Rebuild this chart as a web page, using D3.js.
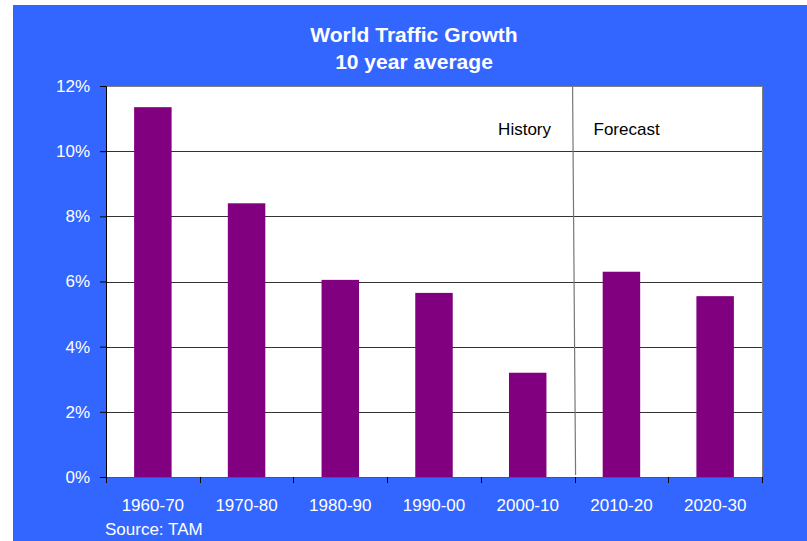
<!DOCTYPE html>
<html>
<head>
<meta charset="utf-8">
<script src="https://cdn.jsdelivr.net/npm/d3@7"></script>
<style>
  body { margin: 0; background: #fff; }
  text { font-family: "Liberation Sans", Arial, sans-serif; }
</style>
</head>
<body>
<div id="chart"></div>
<script>
var periods = ["1960-70", "1970-80", "1980-90", "1990-00", "2000-10", "2010-20", "2020-30"];
var growth = [11.35, 8.4, 6.05, 5.65, 3.2, 6.3, 5.55];
var yTicks = [0, 2, 4, 6, 8, 10, 12];
var titleLines = ["World Traffic Growth", "10 year average"];

var W = 807, H = 541;
var margin = { top: 86, right: 45, bottom: 64, left: 106 };
var width = W - margin.left - margin.right;
var height = H - margin.top - margin.bottom;

var svg = d3.select("#chart").append("svg")
    .attr("width", W)
    .attr("height", H);

// blue background
svg.append("rect")
    .attr("x", 13).attr("y", 5)
    .attr("width", W - 13).attr("height", H - 5)
    .style("fill", "#3366ff");

svg.selectAll(".title")
    .data(titleLines)
    .enter().append("text")
    .attr("class", "title")
    .attr("x", 414)
    .attr("y", function(d, i) { return 42 + i * 27; })
    .attr("text-anchor", "middle")
    .style("fill", "#fff")
    .style("font-size", "21px")
    .style("font-weight", "bold")
    .text(function(d) { return d; });

var g = svg.append("g")
    .attr("transform", "translate(" + margin.left + "," + margin.top + ")");

var x = d3.scaleBand()
    .domain(periods)
    .range([0, width])
    .paddingInner(0.6)
    .paddingOuter(0.3);

var xTick = d3.scaleBand().domain(periods).range([0, width]);

var y = d3.scaleLinear()
    .domain([0, 12])
    .range([height, 0]);

g.append("rect")
    .attr("width", width)
    .attr("height", height)
    .style("fill", "#fff");

// gridlines
g.selectAll(".grid")
    .data(yTicks.filter(function(t) { return t > 0 && t < 12; }))
    .enter().append("line")
    .attr("x1", 0).attr("x2", width)
    .attr("y1", function(d) { return Math.round(y(d)) + 0.5; })
    .attr("y2", function(d) { return Math.round(y(d)) + 0.5; })
    .style("stroke", "#333")
    .style("stroke-width", 1);

// history / forecast divider
var split = xTick("2010-20");
g.append("line")
    .attr("x1", split - 2).attr("y1", 0)
    .attr("x2", split + 1).attr("y2", height - 2)
    .style("stroke", "#777")
    .style("stroke-width", 1.2);

g.append("text")
    .attr("x", split - 50).attr("y", 49)
    .attr("text-anchor", "middle")
    .style("font-size", "17px")
    .style("fill", "#000")
    .text("History");

g.append("text")
    .attr("x", split + 52).attr("y", 49)
    .attr("text-anchor", "middle")
    .style("font-size", "17px")
    .style("fill", "#000")
    .text("Forecast");

// bars
g.selectAll(".bar")
    .data(growth)
    .enter().append("rect")
    .attr("class", "bar")
    .attr("x", function(d, i) { return x(periods[i]); })
    .attr("width", x.bandwidth())
    .attr("y", function(d) { return y(d); })
    .attr("height", function(d) { return height - y(d); })
    .style("fill", "#800080");

// plot border
g.append("rect")
    .attr("x", 0.5).attr("y", 0.5)
    .attr("width", width).attr("height", height)
    .style("fill", "none")
    .style("stroke", "#808080");

// y axis
var yAxis = g.append("g")
    .call(d3.axisLeft(y).tickValues(yTicks).tickSize(6).tickPadding(10)
        .tickFormat(function(d) { return d + "%"; }));
yAxis.select(".domain").style("stroke", "#000");
yAxis.selectAll(".tick line").style("stroke", "#000");
yAxis.selectAll("text")
    .style("fill", "#fff")
    .style("font-size", "17px")
    .style("font-family", "Liberation Sans, Arial, sans-serif");

// x axis
var xAxis = g.append("g")
    .attr("transform", "translate(0," + height + ")")
    .call(d3.axisBottom(xTick).tickSize(0).tickPadding(22));
xAxis.select(".domain").style("stroke", "#555");
xAxis.selectAll("text")
    .style("fill", "#fff")
    .style("font-size", "17px")
    .style("font-family", "Liberation Sans, Arial, sans-serif");

// category separators below axis
g.selectAll(".xsep")
    .data(periods.concat(["end"]))
    .enter().append("line")
    .attr("x1", function(d, i) { return Math.round(i * xTick.step()) + 0.5; })
    .attr("x2", function(d, i) { return Math.round(i * xTick.step()) + 0.5; })
    .attr("y1", height)
    .attr("y2", height + 6)
    .style("stroke", "#000");

svg.append("text")
    .attr("x", 105).attr("y", 535)
    .style("fill", "#fff")
    .style("font-size", "17px")
    .text("Source: TAM");
</script>
</body>
</html>
